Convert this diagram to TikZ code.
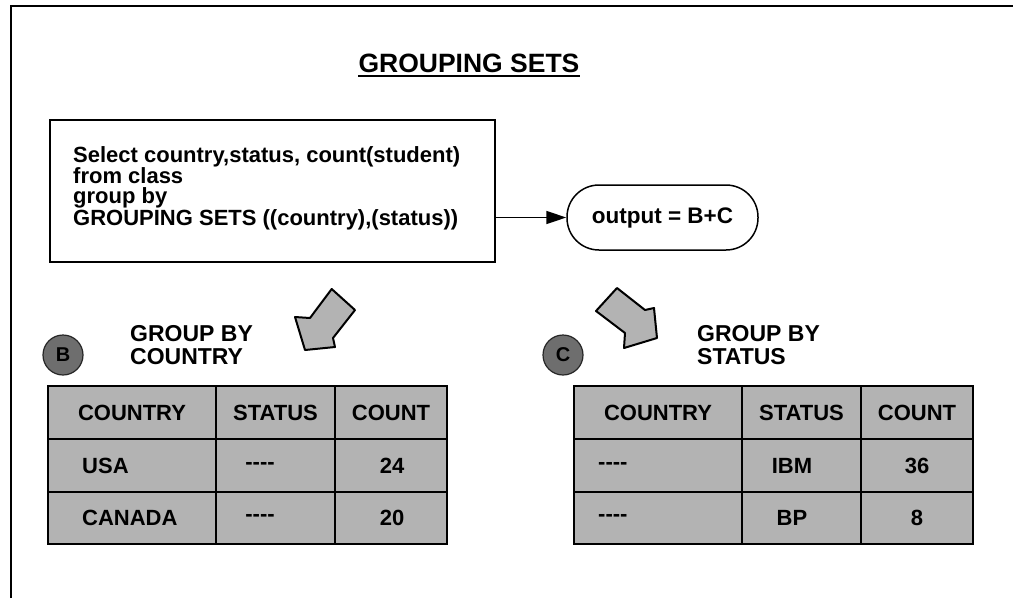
\documentclass[tikz,border=0pt]{standalone}
\usepackage{fontspec}
\setmainfont{Liberation Sans}
\usetikzlibrary{arrows.meta, positioning}
\definecolor{cellgray}{HTML}{B3B3B3}
\definecolor{markgray}{HTML}{6E6E6E}

\begin{document}
\begin{tikzpicture}[x=1pt, y=-1pt,
  title/.style={inner sep=0pt, font=\fontsize{26.5}{30}\selectfont\bfseries},
  query/.style={draw, line width=2pt, minimum width=445pt, minimum height=142pt},
  code/.style={align=left, inner sep=0pt, font=\fontsize{22}{20.3}\selectfont\bfseries},
  outbox/.style={draw, line width=1.5pt, rounded corners=32pt, minimum width=191pt,
                 minimum height=65pt, font=\fontsize{22.5}{26}\selectfont\bfseries},
  arrow/.style={-{Triangle[length=20pt, width=13pt]}, line width=1.5pt},
  grouplabel/.style={align=left, inner sep=0pt, font=\fontsize{23}{23}\selectfont\bfseries},
  marker/.style={circle, fill=markgray, draw=black!85, line width=1.2pt, minimum size=40pt,
                 inner sep=0pt, font=\fontsize{20}{20}\selectfont\bfseries},
  fatarrow/.style={draw, fill=cellgray, line width=2pt, line join=round},
  tablebox/.style={draw, fill=cellgray, line width=2.2pt},
  tableline/.style={line width=1.8pt},
  cell/.style={inner sep=0pt, font=\fontsize{22}{22}\selectfont\bfseries}
]
  \useasboundingbox (0,0) rectangle (1013,598);
  \draw[line width=2pt] (11,598) -- (11,6) -- (1013,6);

  % title and query
  \node[title, anchor=base] (title) at (469,72) {GROUPING SETS};
  \draw[line width=2.2pt] ([yshift=-4pt]title.base west) -- ([yshift=-4pt]title.base east);

  \node[query] (query) at (272.5,191) {};
  \node[code, anchor=north west] (sql) at (73,146) {Select country,status, count(student)\\from class\\group by\\GROUPING SETS ((country),(status))};
  \node[outbox] (out) at (662.5,217.5) {output = B+C};
  \draw[arrow] (query.east |- out.west) -- (out.west);

  % fat arrows
  \filldraw[fatarrow] (331.7,289) -- (355,310) -- (333,338) -- (335,347) -- (305,350) -- (295,317) -- (310,318) -- cycle;
  \filldraw[fatarrow] (596,311) -- (617,288) -- (645,310) -- (654,308) -- (657,338) -- (624,348) -- (625,333) -- cycle;

  % result B
  \node[marker] (markB) at (63,355) {B};
  \node[grouplabel, anchor=north west] (grpB) at (130,325.5) {GROUP BY\\COUNTRY};
  \filldraw[tablebox] (48,386) rectangle (447,544);
  \draw[tableline] (216,386) -- (216,544) (335,386) -- (335,544) (48,439) -- (447,439) (48,492) -- (447,492);
  \node[cell] (b11) at (132,412.5) {COUNTRY};
  \node[cell] (b12) at (275.5,412.5) {STATUS};
  \node[cell] (b13) at (391,412.5) {COUNT};
  \node[cell, anchor=west] (b21) at (82,465.5) {USA};
  \node[cell] (b22) at (260,465.5) {-{}-{}-{}-};
  \node[cell] (b23) at (392,465.5) {24};
  \node[cell, anchor=west] (b31) at (82,518) {CANADA};
  \node[cell] (b32) at (260,518) {-{}-{}-{}-};
  \node[cell] (b33) at (392,518) {20};

  % result C
  \node[marker] (markC) at (563,355) {C};
  \node[grouplabel, anchor=north west] (grpC) at (697,325.5) {GROUP BY\\STATUS};
  \filldraw[tablebox] (574,386) rectangle (973,544);
  \draw[tableline] (742,386) -- (742,544) (861,386) -- (861,544) (574,439) -- (973,439) (574,492) -- (973,492);
  \node[cell] (c11) at (658,412.5) {COUNTRY};
  \node[cell] (c12) at (801.5,412.5) {STATUS};
  \node[cell] (c13) at (917,412.5) {COUNT};
  \node[cell, anchor=west] (c21) at (598,465.5) {-{}-{}-{}-};
  \node[cell] (c22) at (792,465.5) {IBM};
  \node[cell] (c23) at (917,465.5) {36};
  \node[cell, anchor=west] (c31) at (598,518) {-{}-{}-{}-};
  \node[cell] (c32) at (792,518) {BP};
  \node[cell] (c33) at (917,518) {8};
\end{tikzpicture}
\end{document}
